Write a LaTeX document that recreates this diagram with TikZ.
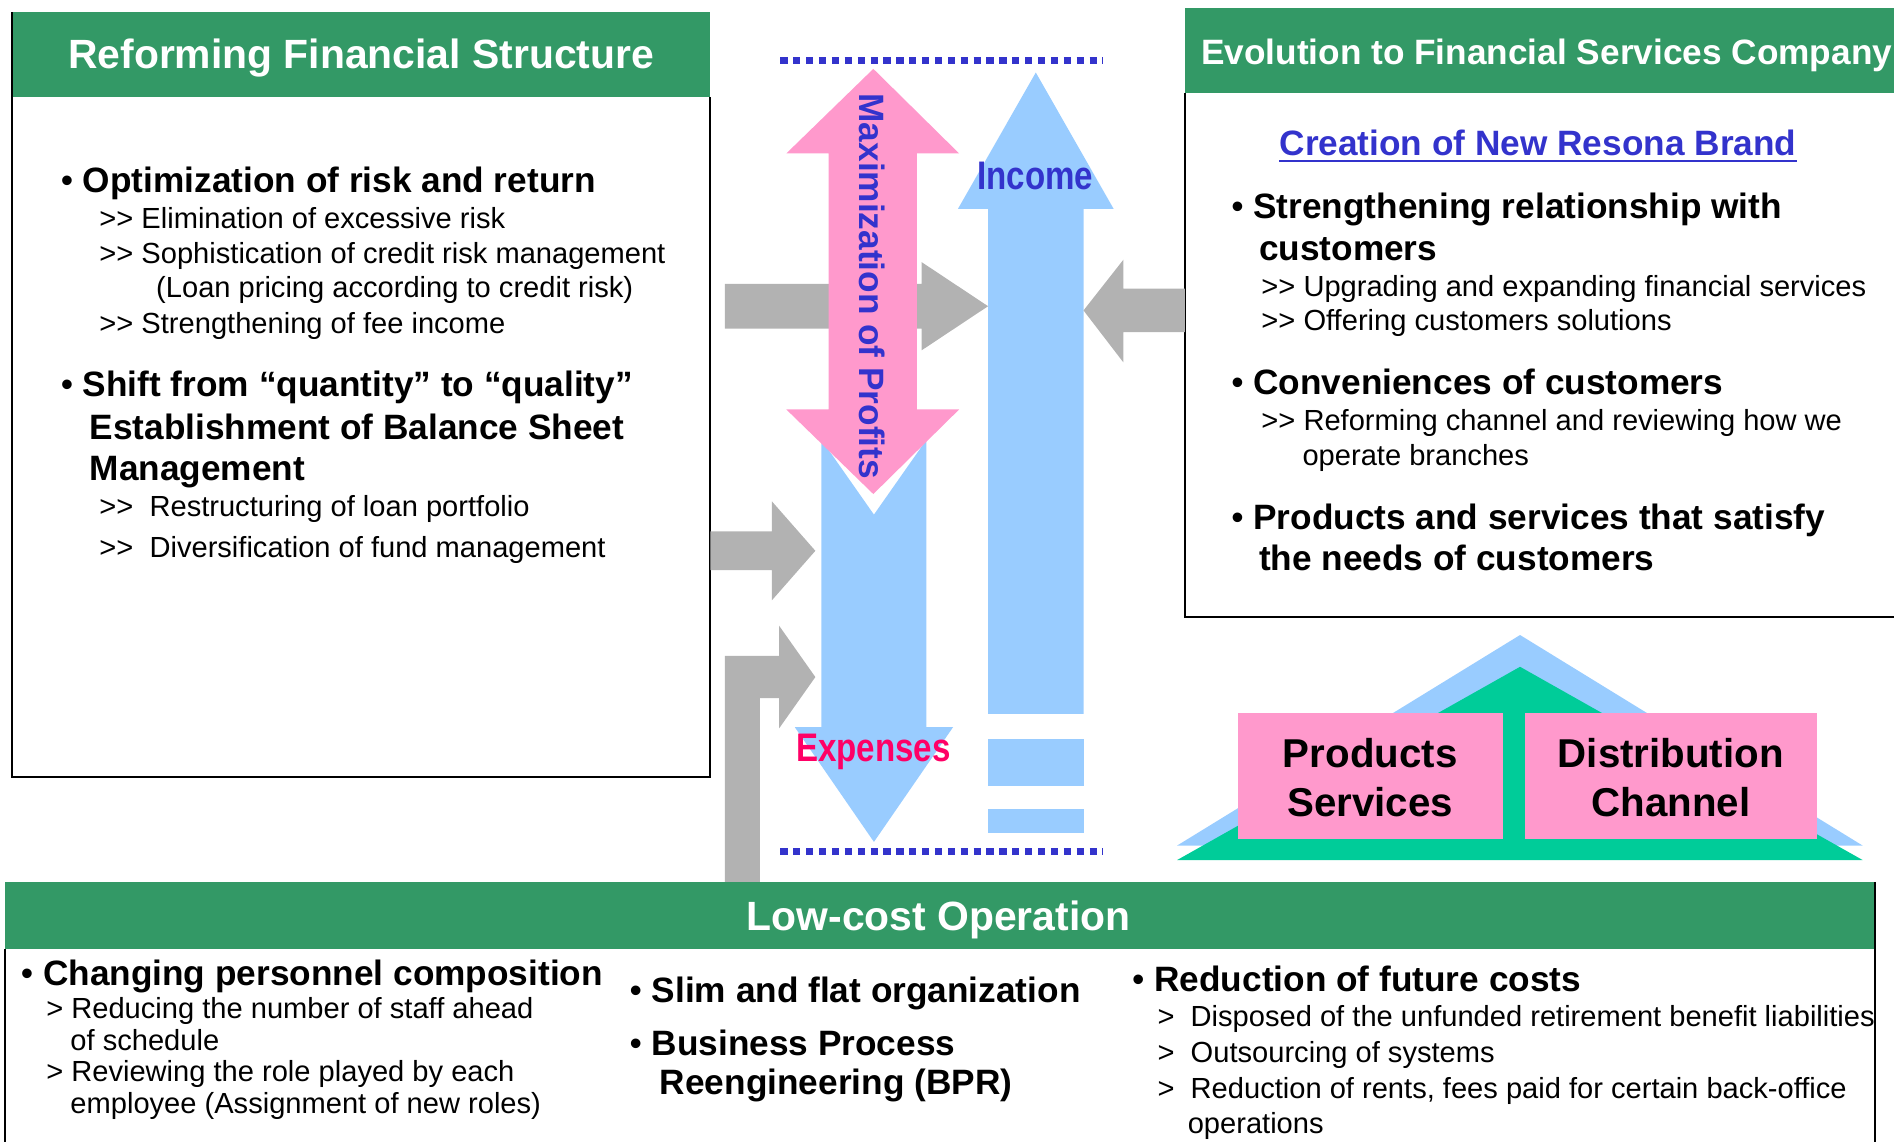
\documentclass[tikz,border=0pt]{standalone}
\usepackage{fontspec}
\setmainfont{Liberation Sans}
\definecolor{hdrgreen}{HTML}{339966}
\definecolor{ltblue}{HTML}{99CCFF}
\definecolor{pinkfill}{HTML}{FF99CC}
\definecolor{grayarrow}{HTML}{B2B2B2}
\definecolor{txtblue}{HTML}{3333CC}
\definecolor{exppink}{HTML}{FF0066}
\definecolor{housegreen}{HTML}{00CC99}
\newcommand\dgt{>\kern0pt>}
\newcommand\bul{{\mdseries •}}
\tikzset{
  frame/.style={draw=black, line width=1pt},
  hdr/.style={fill=hdrgreen, draw=none},
  hbig/.style={anchor=base, inner sep=0, text=white, font=\fontsize{20.3}{24}\selectfont\bfseries},
  hsmall/.style={anchor=base west, inner sep=0, text=white, font=\fontsize{17.5}{21}\selectfont\bfseries},
  btxt/.style={anchor=base west, inner sep=0, font=\fontsize{17.5}{21}\selectfont\bfseries},
  stxt/.style={anchor=base west, inner sep=0, font=\fontsize{14.45}{17}\selectfont},
  dotline/.style={draw=txtblue, line width=3.1pt, dash pattern=on 3.6pt off 2.8pt},
  grayarr/.style={fill=grayarrow, draw=none},
  bluearr/.style={fill=ltblue, draw=none},
  pinkarr/.style={fill=pinkfill, draw=none},
  boxtxt/.style={anchor=base, inner sep=0, font=\fontsize{20}{24}\selectfont\bfseries},
}
\begin{document}
\begin{tikzpicture}[x=0.6pt,y=-0.6pt]
\useasboundingbox (0,0) rectangle (1568,945);
\clip (0,0) rectangle (1568,945);

% ---------- left box ----------
\fill[hdr] (10,10) rectangle (588,80);
\draw[frame] (10,10) -- (10,643) -- (588,643) -- (588,80);
\node[hbig] (lhdr) at (299,57) {Reforming Financial Structure};
\node[btxt] (l1) at (50,159.5) {\bul\ Optimization of risk and return};
\node[stxt] (l2) at (82,189) {\dgt\ Elimination of excessive risk};
\node[stxt] (l3) at (82,218) {\dgt\ Sophistication of credit risk management};
\node[stxt] (l4) at (129,246) {(Loan pricing according to credit risk)};
\node[stxt] (l5) at (82,276) {\dgt\ Strengthening of fee income};
\node[btxt] (l6) at (50,328.5) {\bul\ Shift from “quantity” to “quality”};
\node[btxt] (l7) at (74,364) {Establishment of Balance Sheet};
\node[btxt] (l8) at (74,398) {Management};
\node[stxt] (l9) at (82,427.5) {\dgt\ \ Restructuring of loan portfolio};
\node[stxt] (l10) at (82,461.5) {\dgt\ \ Diversification of fund management};

% ---------- right box ----------
\fill[hdr] (981,7) rectangle (1580,77);
\draw[frame] (981,77) -- (981,511) -- (1580,511);
\node[hsmall] (rhdr) at (994,53) {Evolution to Financial Services Company};
\node[btxt, text=txtblue] (cre) at (1059,128.5) {Creation of New Resona Brand};
\draw[txtblue, line width=1pt] ([yshift=-3pt]cre.base west) -- ([yshift=-3pt]cre.base east);
\node[btxt] (r1) at (1019,181) {\bul\ Strengthening relationship with};
\node[btxt] (r2) at (1042,215.5) {customers};
\node[stxt] (r3) at (1044,245.5) {\dgt\ Upgrading and expanding financial services};
\node[stxt] (r4) at (1044,274) {\dgt\ Offering customers solutions};
\node[btxt] (r5) at (1019,327) {\bul\ Conveniences of customers};
\node[stxt] (r6) at (1044,356.5) {\dgt\ Reforming channel and reviewing how we};
\node[stxt] (r7) at (1078,385.5) {operate branches};
\node[btxt] (r8) at (1019,438) {\bul\ Products and services that satisfy};
\node[btxt] (r9) at (1042,472.5) {the needs of customers};

% ---------- bottom box ----------
\fill[hdr] (4,730) rectangle (1552,786);
\draw[frame] (4,786) -- (4,960);
\draw[frame] (1552,730) -- (1552,960);
\node[hbig] (bhdr) at (777,770) {Low-cost Operation};
\node[btxt] (b1) at (17,816) {\bul\ Changing personnel composition};
\node[stxt] (b2) at (38,843.5) {> Reducing the number of staff ahead};
\node[stxt] (b3) at (58,869.5) {of schedule};
\node[stxt] (b4) at (38,895.5) {> Reviewing the role played by each};
\node[stxt] (b5) at (58,921.5) {employee (Assignment of new roles)};
\node[btxt] (b6) at (521,830) {\bul\ Slim and flat organization};
\node[btxt] (b7) at (521,874) {\bul\ Business Process};
\node[btxt] (b8) at (546,906) {Reengineering (BPR)};
\node[btxt] (b9) at (937,821) {\bul\ Reduction of future costs};
\node[stxt] (b10) at (958,850) {>\ \ Disposed of the unfunded retirement benefit liabilities};
\node[stxt] (b11) at (958,880) {>\ \ Outsourcing of systems};
\node[stxt] (b12) at (958,909) {>\ \ Reduction of rents, fees paid for certain back-office};
\node[stxt] (b13) at (983,938) {operations};

% ---------- dotted lines ----------
\draw[dotline] (646,50) -- (913,50);
\draw[dotline] (646,705) -- (913,705);

% ---------- income arrow ----------
\fill[bluearr] (818,591) -- (818,173) -- (793,173) -- (857.5,60) -- (922,173) -- (897,173) -- (897,591) -- cycle;
\fill[bluearr] (818,612) rectangle (897,651);
\fill[bluearr] (818,670) rectangle (897,690);

% ---------- expenses arrow ----------
\fill[bluearr] (680,364) -- (723.5,426) -- (767,364) -- (767,602) -- (789,602) -- (723.5,697) -- (658,602) -- (680,602) -- cycle;

% ---------- gray arrows ----------
\fill[grayarr] (600,235) -- (763,235) -- (763,217) -- (818,253.5) -- (763,290) -- (763,272) -- (600,272) -- cycle;
\fill[grayarr] (981,239) -- (930,239) -- (930,215) -- (897,257) -- (930,300) -- (930,275) -- (981,275) -- cycle;
\fill[grayarr] (588,440) -- (639,440) -- (639,415) -- (675,456) -- (639,497) -- (639,472) -- (588,472) -- cycle;
\fill[grayarr] (600,730) -- (600,543) -- (645,543) -- (645,518) -- (675,560.5) -- (645,603) -- (645,578) -- (629,578) -- (629,730) -- cycle;

% ---------- pink double arrow ----------
\fill[pinkarr] (723,57) -- (794,127) -- (759,127) -- (759,339) -- (794,339) -- (723,409) -- (651,339) -- (686,339) -- (686,127) -- (651,127) -- cycle;
\node[rotate=-90, inner sep=0, text=txtblue, font=\fontsize{17.5}{21}\selectfont\bfseries] (maxp) at (722,237) {Maximization of Profits};

% labels
\node[inner sep=0, text=txtblue, font=\fontsize{19.8}{24}\selectfont\bfseries] (inc) at (857,146) {\scalebox{0.83}[1]{Income}};
\node[inner sep=0, text=exppink, font=\fontsize{19.8}{24}\selectfont\bfseries] (exp) at (723,622.5) {\scalebox{0.83}[1]{Expenses}};

% ---------- house ----------
\fill[ltblue] (1258.4,525.7) -- (1542,700) -- (974.5,700) -- cycle;
\fill[housegreen] (1258.4,552) -- (1542,712) -- (974.5,712) -- cycle;
\fill[pinkfill] (1024.8,590.3) rectangle (1243.9,694.6);
\fill[pinkfill] (1262.4,590.3) rectangle (1504,694.6);
\node[boxtxt] (ps1) at (1134.3,635.6) {Products};
\node[boxtxt] (ps2) at (1134.3,675.7) {Services};
\node[boxtxt] (dc1) at (1383.2,635.6) {Distribution};
\node[boxtxt] (dc2) at (1383.2,675.7) {Channel};
\end{tikzpicture}
\end{document}
